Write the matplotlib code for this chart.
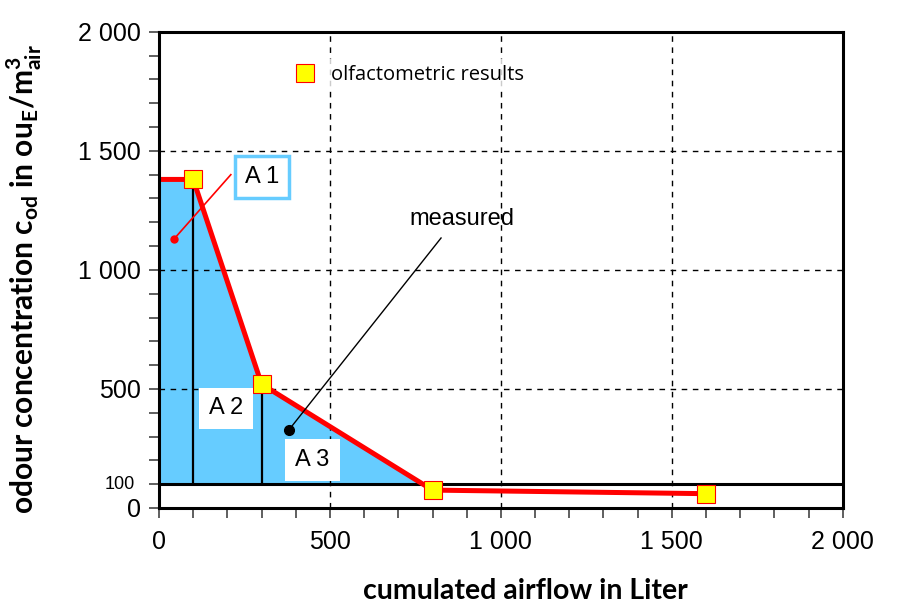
import matplotlib
matplotlib.use('Agg')
import matplotlib.pyplot as plt
from matplotlib.lines import Line2D
from matplotlib.ticker import FixedLocator, MultipleLocator
from matplotlib.transforms import offset_copy
import numpy as np

# olfactometric results (cumulated airflow in L, odour conc. in ouE/m3)
airflow = [100, 300, 800, 1600]
conc = [1380, 520, 75, 60]
# red curve starts at x=0 with the first value
line_x = [0] + airflow
line_y = [conc[0]] + conc
baseline = 100

x_ticks = [0, 500, 1000, 1500, 2000]
x_labels = ['0', '500', '1 000', '1 500', '2 000']
y_ticks = [0, 500, 1000, 1500, 2000]
y_labels = ['0', '500', '1 000', '1 500', '2 000']

plt.rcParams['mathtext.fontset'] = 'custom'
plt.rcParams['mathtext.rm'] = 'Lato'
plt.rcParams['mathtext.bf'] = 'Lato:bold'

fig = plt.figure(figsize=(9.14, 6.12), dpi=100)
ax = fig.add_axes([0.174, 0.170, 0.748, 0.778])

lx = np.array(line_x, dtype=float)
ly = np.array(line_y, dtype=float)
ax.fill_between(lx, ly, baseline, where=ly >= baseline, interpolate=True,
                color='#66ccff', lw=0, zorder=1)

ax.set_xlim(0, 2000)
ax.set_ylim(0, 2000)

# grid
for v in [500, 1000, 1500]:
    ax.axvline(v, color='k', lw=1, ls=(0, (4, 4)), zorder=2)
    ax.axhline(v, color='k', lw=1, ls=(0, (4, 4)), zorder=2)

ax.axhline(baseline, color='k', lw=2.2, zorder=3)
# partition lines A1/A2/A3
ax.vlines(airflow[:2], baseline, conc[:2], color='k', lw=1.6, zorder=3)

ax.plot(line_x, line_y, color='red', lw=3.6, zorder=4, solid_joinstyle='miter')
ax.plot(airflow, conc, ls='none', marker='s', ms=12.5, mfc='yellow',
        mec='red', mew=0.8, zorder=5)

# area labels
txt_kw = dict(family='Liberation Sans', fontsize=17, ha='center', va='center', zorder=6)
ax.text(302, 1391, 'A 1', bbox=dict(boxstyle='square,pad=0.42', fc='white',
        ec='#66ccff', lw=2.5), **txt_kw)
ax.text(196, 418, 'A 2', bbox=dict(boxstyle='square,pad=0.42', fc='white', ec='none'), **txt_kw)
ax.text(449, 200, 'A 3', bbox=dict(boxstyle='square,pad=0.42', fc='white', ec='none'), **txt_kw)

ax.plot([44, 210], [1130, 1400], color='red', lw=1.2, zorder=5)
ax.plot(44, 1130, 'o', color='red', ms=5, zorder=5)

ax.text(886, 1212, 'measured', **txt_kw)
ax.plot([380, 825], [328, 1134], color='k', lw=1, zorder=5)
ax.plot(380, 328, 'o', color='k', ms=7, zorder=5)

# legend
h = Line2D([], [], ls='none', marker='s', ms=12.5, mfc='yellow', mec='red', mew=0.8)
leg = ax.legend([h], ['olfactometric results'], loc='center left',
                bbox_to_anchor=(0.175, 0.91), frameon=True, fancybox=False,
                handlelength=1.0, handletextpad=0.8, borderpad=0.3,
                prop={'family': 'Open Sans', 'size': 14.5})
leg.get_frame().set_edgecolor('none')
leg.set_zorder(7)

# ticks
ax.xaxis.set_major_locator(FixedLocator(x_ticks))
ax.set_xticklabels(x_labels, family='Liberation Sans', fontsize=18)
ax.xaxis.set_minor_locator(MultipleLocator(100))
ax.yaxis.set_major_locator(FixedLocator(y_ticks))
ax.set_yticklabels(y_labels, family='Liberation Sans', fontsize=18)
ax.yaxis.set_minor_locator(MultipleLocator(100))
ax.tick_params(which='both', direction='out', length=7, width=1.2, color='#444444')
ax.tick_params(axis='x', pad=9)
ax.tick_params(axis='y', pad=6)
ax.text(0, baseline, '100', ha='right', va='center',
        transform=offset_copy(ax.get_yaxis_transform(), fig=fig, x=-24, y=0, units='dots'),
        family='Liberation Sans', fontsize=13)

for s in ax.spines.values():
    s.set_linewidth(2.2)
    s.set_zorder(8)

ax.set_xlabel('cumulated airflow in Liter', family='Lato', fontweight='bold', fontsize=20.5)
ax.set_ylabel(r'odour concentration c$_{\mathbf{od}}$ in ou$_{\mathbf{E}}$/m$^{\mathbf{3}}_{\mathbf{air}}$',
              family='Lato', fontweight='bold', fontsize=21.5)
ax.xaxis.set_label_coords(0.536, -0.148)
ax.yaxis.set_label_coords(-0.168, 0.48)

fig.savefig('out.png', dpi=100)
